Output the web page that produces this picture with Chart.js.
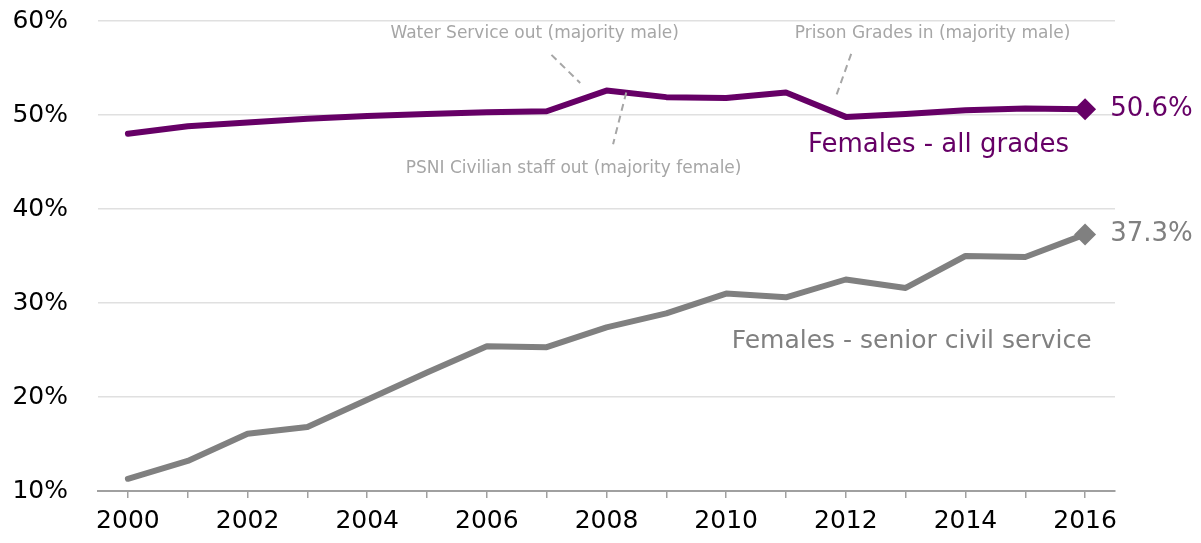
<!DOCTYPE html>
<html>
<head>
<meta charset="utf-8">
<script src="https://cdn.jsdelivr.net/npm/chart.js@4.4.1/dist/chart.umd.min.js"></script>
<style>
  html, body { margin: 0; padding: 0; background: #fff; }
  #wrap { width: 1201px; height: 543px; }
</style>
</head>
<body>
<div id="wrap"><canvas id="chart" width="1201" height="543"></canvas></div>
<script>
'use strict';

/* ───── DATA ───────────────────────────────────────────────────────────── */
const years = ['2000', '2001', '2002', '2003', '2004', '2005', '2006', '2007', '2008',
               '2009', '2010', '2011', '2012', '2013', '2014', '2015', '2016'];
const allGrades = [48.0, 48.8, 49.2, 49.6, 49.9, 50.1, 50.3, 50.4, 52.6,
                   51.9, 51.8, 52.4, 49.8, 50.1, 50.5, 50.7, 50.6];
const seniorCS  = [11.3, 13.2, 16.1, 16.8, 19.7, 22.6, 25.4, 25.3, 27.4,
                   28.9, 31.0, 30.6, 32.5, 31.6, 35.0, 34.9, 37.3];
const yTicks = [10, 20, 30, 40, 50, 60];

// notes placed in data space: x = year index, y = percent
const notes = [
    { text: 'Water Service out (majority male)',        x: 6.8,  y: 58.7, from: [7.08, 56.4], to: [7.56, 53.4] },
    { text: 'PSNI Civilian staff out (majority female)', x: 7.45, y: 44.3, from: [8.33, 52.4], to: [8.11, 46.9] },
    { text: 'Prison Grades in (majority male)',          x: 13.45, y: 58.7, from: [12.09, 56.5], to: [11.82, 51.7] },
];
const seriesLabels = [
    { text: 'Females - all grades',           x: 13.55, y: 46.8, color: '#660066', size: 26 },
    { text: 'Females - senior civil service', x: 13.1,  y: 25.9, color: '#808080', size: 25 },
];

const PURPLE = '#660066';
const GREY   = '#808080';
const FONT   = '"DejaVu Sans", sans-serif';

/* ───── ANNOTATION PLUGIN ──────────────────────────────────────────────── */
const annotate = {
    id: 'annotate',
    afterDatasetsDraw(chart) {
        const { ctx, scales: { x, y } } = chart;
        ctx.save();
        ctx.textAlign = 'center';
        ctx.textBaseline = 'middle';

        // dashed leader lines + small notes
        ctx.strokeStyle = '#a6a6a6';
        ctx.lineWidth = 2;
        ctx.setLineDash([7, 5]);
        notes.forEach(n => {
            ctx.beginPath();
            ctx.moveTo(x.getPixelForValue(n.from[0]), y.getPixelForValue(n.from[1]));
            ctx.lineTo(x.getPixelForValue(n.to[0]), y.getPixelForValue(n.to[1]));
            ctx.stroke();
        });
        ctx.setLineDash([]);
        ctx.fillStyle = '#a6a6a6';
        ctx.font = '17px ' + FONT;
        notes.forEach(n => ctx.fillText(n.text, x.getPixelForValue(n.x), y.getPixelForValue(n.y)));

        // series names
        seriesLabels.forEach(s => {
            ctx.font = s.size + 'px ' + FONT;
            ctx.fillStyle = s.color;
            ctx.fillText(s.text, x.getPixelForValue(s.x), y.getPixelForValue(s.y));
        });

        // end-of-line values
        ctx.textAlign = 'left';
        ctx.font = '26px ' + FONT;
        chart.data.datasets.forEach(ds => {
            const i = ds.data.length - 1;
            const v = ds.data[i];
            ctx.fillStyle = ds.borderColor;
            ctx.fillText(v.toFixed(1) + '%', x.getPixelForValue(i + 0.42), y.getPixelForValue(v));
        });
        ctx.restore();
    },
};

/* ───── CHART ──────────────────────────────────────────────────────────── */
const lastOnly = (r) => ctx => (ctx.dataIndex === years.length - 1 ? r : 0);

new Chart(document.getElementById('chart').getContext('2d'), {
    type: 'line',
    data: {
        labels: years,
        datasets: [
            {
                label: 'Females - all grades', data: allGrades,
                borderColor: PURPLE, backgroundColor: PURPLE,
                borderWidth: 6, tension: 0,
                pointStyle: 'rectRot', pointRadius: lastOnly(11), pointBorderWidth: 0,
                borderCapStyle: 'round', borderJoinStyle: 'round',
            },
            {
                label: 'Females - senior civil service', data: seniorCS,
                borderColor: GREY, backgroundColor: GREY,
                borderWidth: 6, tension: 0,
                pointStyle: 'rectRot', pointRadius: lastOnly(11), pointBorderWidth: 0,
                borderCapStyle: 'round', borderJoinStyle: 'round',
            },
        ],
    },
    options: {
        responsive: false, animation: false,
        layout: { padding: { top: 21, right: 86, left: 0, bottom: 0 } },
        plugins: { legend: { display: false }, tooltip: { enabled: false } },
        scales: {
            x: {
                offset: true,
                grid: { display: true, drawOnChartArea: false, drawTicks: true, tickLength: 7,
                        offset: false, color: '#a0a0a0', lineWidth: 1.5 },
                border: { display: true, color: '#a0a0a0', width: 2 },
                ticks: {
                    autoSkip: false, maxRotation: 0, padding: 8,
                    color: '#000', font: { family: FONT, size: 25 },
                    callback: (v, i) => (i % 2 === 0 ? years[i] : ''),
                },
                afterFit: s => { s.height = 52; },
            },
            y: {
                min: 10, max: 60,
                afterBuildTicks: s => { s.ticks = yTicks.map(v => ({ value: v })); },
                grid: { color: '#e0e0e0', lineWidth: 1.5, drawTicks: false },
                border: { display: false },
                ticks: {
                    padding: 30, color: '#000', font: { family: FONT, size: 25 },
                    callback: v => v + '%',
                },
                afterFit: s => { s.width = 98; s.paddingTop = 0; s.paddingBottom = 0; },
            },
        },
    },
    plugins: [annotate],
});
</script>
</body>
</html>
